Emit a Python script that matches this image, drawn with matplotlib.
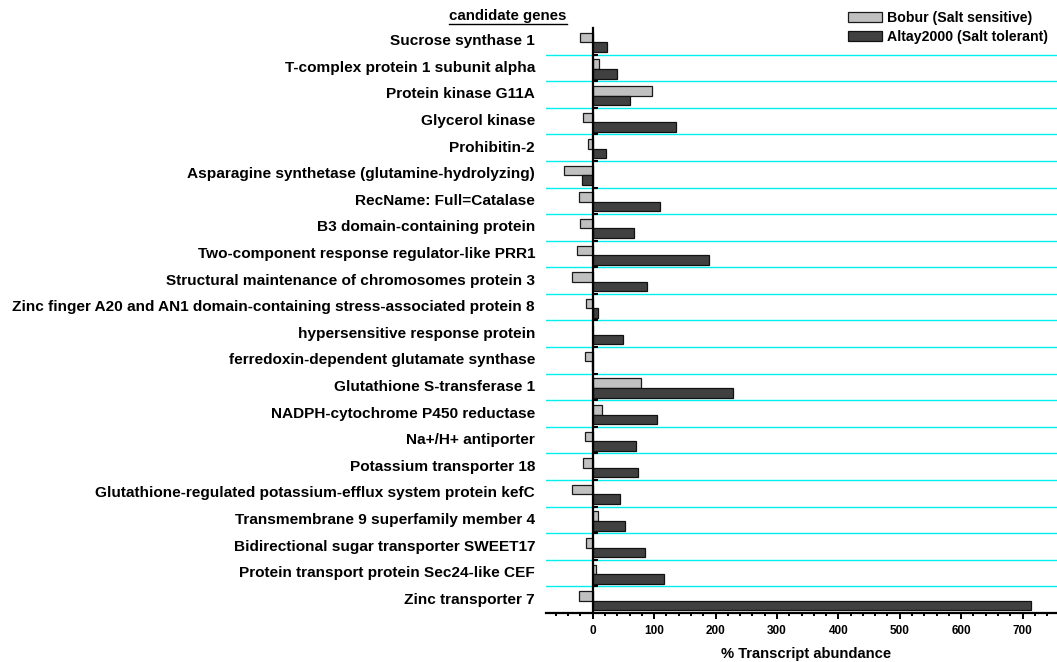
import matplotlib
matplotlib.use("Agg")
import matplotlib.pyplot as plt
from matplotlib.patches import Patch
from matplotlib.lines import Line2D
import numpy as np

plt.rcParams['font.family'] = ['Liberation Sans', 'DejaVu Sans']
plt.rcParams['font.weight'] = 'bold'

genes = [
    "Sucrose synthase 1",
    "T-complex protein 1 subunit alpha",
    "Protein kinase G11A",
    "Glycerol kinase",
    "Prohibitin-2",
    "Asparagine synthetase (glutamine-hydrolyzing)",
    "RecName: Full=Catalase",
    "B3 domain-containing protein",
    "Two-component response regulator-like PRR1",
    "Structural maintenance of chromosomes protein 3",
    "Zinc finger A20 and AN1 domain-containing stress-associated protein 8",
    "hypersensitive response protein",
    "ferredoxin-dependent glutamate synthase",
    "Glutathione S-transferase 1",
    "NADPH-cytochrome P450 reductase",
    "Na+/H+ antiporter",
    "Potassium transporter 18",
    "Glutathione-regulated potassium-efflux system protein kefC",
    "Transmembrane 9 superfamily member 4",
    "Bidirectional sugar transporter SWEET17",
    "Protein transport protein Sec24-like CEF",
    "Zinc transporter 7",
]

bobur = [-20, 10, 96, -16, -8, -46, -22, -20, -25, -33, -11, 0, -12, 78,
         15, -12, -16, -33, 8, -11, 5, -22]
altay = [24, 39, 60, 136, 22, -17, 110, 67, 190, 88, 9, 50, -1, 229,
         105, 70, 73, 45, 52, 86, 116, 714]

series_names = ["Bobur (Salt sensitive)", "Altay2000 (Salt tolerant)"]
light = "#c0c0c0"
dark = "#404040"

W, H = 1057, 662
fig = plt.figure(figsize=(W / 100, H / 100), dpi=100)
ax = fig.add_axes([546 / W, 1 - 613 / H, (W - 546) / W, (613 - 28) / H])

n = len(genes)
y = np.arange(n)
bh = 0.36
ax.barh(y - 0.14, bobur, height=bh, color=light, edgecolor="#1a1a1a",
        linewidth=0.9, zorder=3)
ax.barh(y + 0.22, altay, height=bh, color=dark, edgecolor="#111111",
        linewidth=0.9, zorder=3)

ax.set_ylim(n - 0.5, -0.5)
ax.set_xlim(-76, 756)

# row separators
for b in np.arange(n - 1) + 0.5:
    ax.axhline(b, color="#00f0f0", linewidth=1.0, zorder=1)

# spines
for s in ("top", "right"):
    ax.spines[s].set_visible(False)
ax.spines["left"].set_position(("data", 0))
ax.spines["left"].set_linewidth(1.6)
ax.spines["left"].set_zorder(4)
ax.spines["bottom"].set_linewidth(1.6)

ax.set_yticks(np.arange(n - 1) + 0.5)
ax.set_yticklabels([])
ax.tick_params(axis="y", direction="in", length=3.5, width=1.5)

ax.set_xticks(np.arange(0, 701, 100))
ax.set_xticks(np.arange(-60, 757, 20), minor=True)
ax.tick_params(axis="x", which="major", direction="out", length=4.5,
               width=1.4, labelsize=8.5, pad=4)
ax.tick_params(axis="x", which="minor", direction="out", length=2.2,
               width=1.4)
for t in ax.get_xticklabels():
    t.set_fontweight("bold")
ax.set_xlabel("% Transcript abundance", fontsize=10.6, fontweight="bold")
ax.xaxis.set_label_coords((806 - 546) / (W - 546), (613 - 647) / 585)

# gene names
tr = ax.get_yaxis_transform()
for yi, g in zip(y, genes):
    ax.text(-11 / (W - 546), yi, g, transform=tr, ha="right", va="center",
            fontsize=11.1, fontweight="bold")

# column header
hdr = fig.text(508 / W, 1 - 16 / H, "candidate genes", ha="center",
               va="center", fontsize=10.8, fontweight="bold")
fig.canvas.draw()
bb = hdr.get_window_extent()
fig.add_artist(Line2D([bb.x0 / W, bb.x1 / W],
                      [(bb.y0 - 0.5) / H, (bb.y0 - 0.5) / H],
                      color="black", linewidth=1.0))

handles = [Patch(facecolor=light, edgecolor="#1a1a1a", linewidth=0.9),
           Patch(facecolor=dark, edgecolor="#111111", linewidth=0.9)]
leg = fig.legend(handles, series_names, loc="upper left",
                 bbox_to_anchor=(848 / W, 1 - 11 / H), frameon=False,
                 handlelength=2.4, handleheight=0.63, handletextpad=0.35,
                 labelspacing=0.36, borderaxespad=0, borderpad=0,
                 prop={"weight": "bold", "size": 10.2})

fig.savefig("out.png", dpi=100)
